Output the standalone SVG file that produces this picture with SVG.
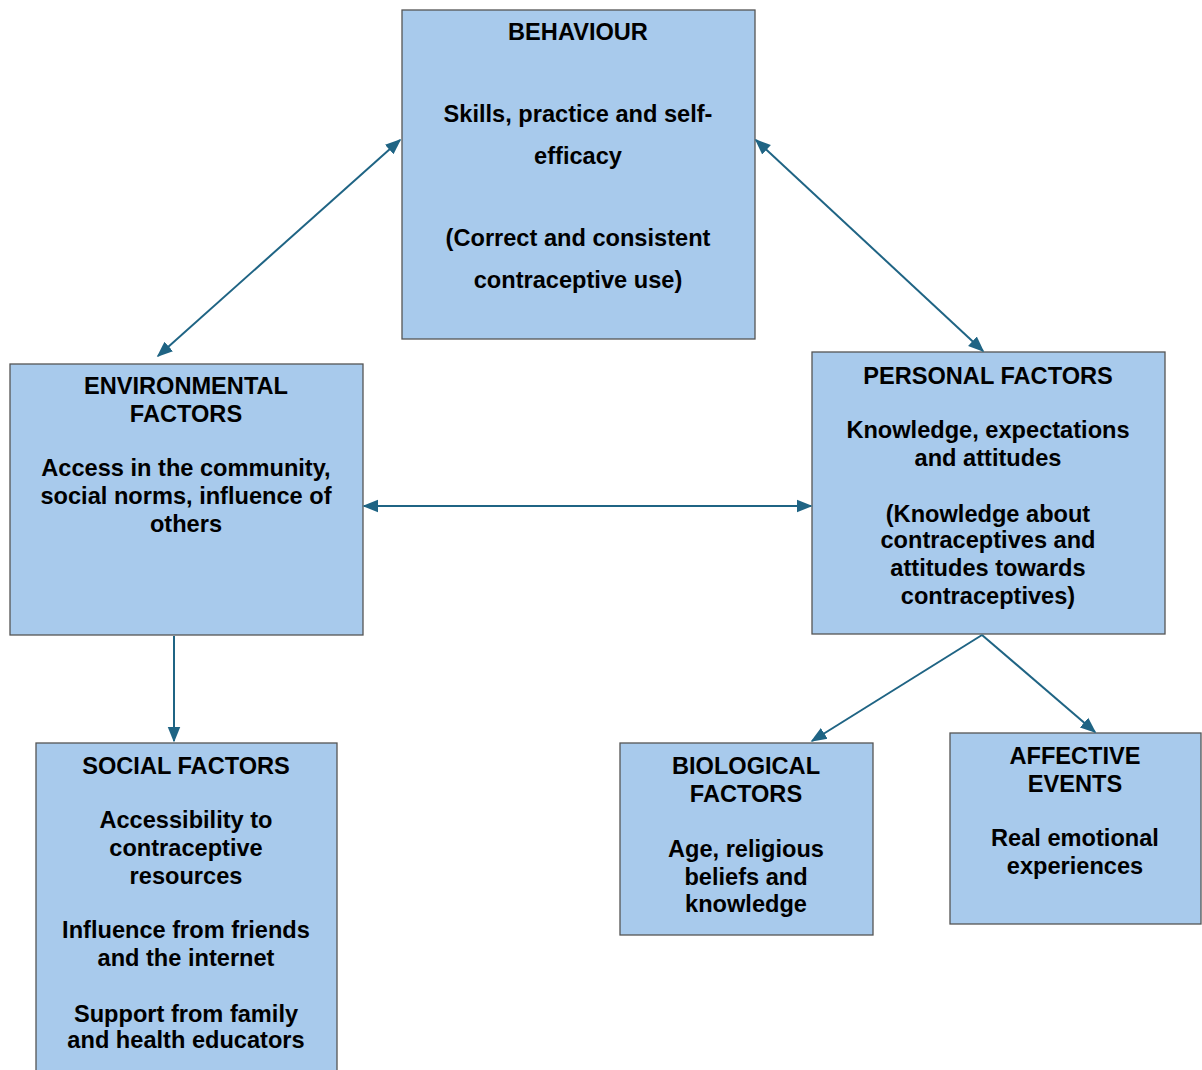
<svg xmlns="http://www.w3.org/2000/svg" width="1202" height="1070" viewBox="0 0 1202 1070">
<style>
.box{fill:#a8caec;stroke:#555;stroke-width:1.3}
.t{font-family:"Liberation Sans",Arial,sans-serif;font-weight:bold;font-size:23.6px;fill:#000;text-anchor:middle}
.c{stroke:#1f6484;stroke-width:2;fill:none}
</style>
<defs>
<marker id="a" viewBox="0 0 10 10" refX="9" refY="5" markerWidth="16" markerHeight="16" orient="auto-start-reverse" markerUnits="userSpaceOnUse">
<path d="M0,1 L10,5 L0,9 z" fill="#1f6484"/>
</marker>
</defs>
<rect width="1202" height="1070" fill="#fff"/>
<g id="behaviour">
<rect class="box" x="402" y="10" width="353" height="329"/>
<text class="t" x="578" y="40">BEHAVIOUR</text>
<text class="t" x="578" y="122">Skills, practice and self-</text>
<text class="t" x="578" y="164">efficacy</text>
<text class="t" x="578" y="246">(Correct and consistent</text>
<text class="t" x="578" y="288">contraceptive use)</text>
</g>
<g id="environmental">
<rect class="box" x="10" y="364" width="353" height="271"/>
<text class="t" x="186" y="394">ENVIRONMENTAL</text>
<text class="t" x="186" y="422">FACTORS</text>
<text class="t" x="186" y="476">Access in the community,</text>
<text class="t" x="186" y="504">social norms, influence of</text>
<text class="t" x="186" y="532">others</text>
</g>
<g id="personal">
<rect class="box" x="812" y="352" width="353" height="282"/>
<text class="t" x="988" y="384">PERSONAL FACTORS</text>
<text class="t" x="988" y="438">Knowledge, expectations</text>
<text class="t" x="988" y="466">and attitudes</text>
<text class="t" x="988" y="522">(Knowledge about</text>
<text class="t" x="988" y="548">contraceptives and</text>
<text class="t" x="988" y="576">attitudes towards</text>
<text class="t" x="988" y="604">contraceptives)</text>
</g>
<g id="social">
<rect class="box" x="36" y="743" width="301" height="340"/>
<text class="t" x="186" y="774">SOCIAL FACTORS</text>
<text class="t" x="186" y="828">Accessibility to</text>
<text class="t" x="186" y="856">contraceptive</text>
<text class="t" x="186" y="884">resources</text>
<text class="t" x="186" y="938">Influence from friends</text>
<text class="t" x="186" y="966">and the internet</text>
<text class="t" x="186" y="1022">Support from family</text>
<text class="t" x="186" y="1048">and health educators</text>
</g>
<g id="biological">
<rect class="box" x="620" y="743" width="253" height="192"/>
<text class="t" x="746" y="774">BIOLOGICAL</text>
<text class="t" x="746" y="802">FACTORS</text>
<text class="t" x="746" y="857">Age, religious</text>
<text class="t" x="746" y="885">beliefs and</text>
<text class="t" x="746" y="912">knowledge</text>
</g>
<g id="affective">
<rect class="box" x="950" y="733" width="251" height="191"/>
<text class="t" x="1075" y="764">AFFECTIVE</text>
<text class="t" x="1075" y="792">EVENTS</text>
<text class="t" x="1075" y="846">Real emotional</text>
<text class="t" x="1075" y="874">experiences</text>
</g>
<g id="connectors">
<line class="c" x1="400" y1="140" x2="158" y2="356" marker-start="url(#a)" marker-end="url(#a)"/>
<line class="c" x1="756" y1="140" x2="983" y2="351" marker-start="url(#a)" marker-end="url(#a)"/>
<line class="c" x1="364" y1="506" x2="811" y2="506" marker-start="url(#a)" marker-end="url(#a)"/>
<line class="c" x1="174" y1="636" x2="174" y2="741" marker-end="url(#a)"/>
<line class="c" x1="982" y1="635" x2="812" y2="741" marker-end="url(#a)"/>
<line class="c" x1="982" y1="635" x2="1095" y2="732" marker-end="url(#a)"/>
</g>
</svg>
